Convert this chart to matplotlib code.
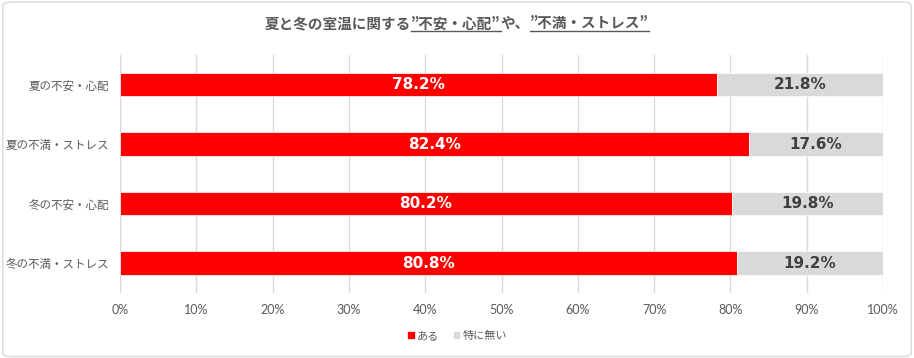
import numpy as np
import matplotlib
matplotlib.use('Agg')
import matplotlib.pyplot as plt
from matplotlib.patches import FancyBboxPatch
from matplotlib.lines import Line2D

plt.rcParams['font.family'] = ['Noto Sans CJK JP', 'DejaVu Sans']

categories = ['夏の不安・心配', '夏の不満・ストレス', '冬の不安・心配', '冬の不満・ストレス']
aru = [78.2, 82.4, 80.2, 80.8]
nai = [21.8, 17.6, 19.8, 19.2]
series_names = ['ある', '特に無い']
colors = ['#FF0000', '#D9D9D9']
xticks = np.arange(0, 101, 10)
xticklabels = ['%d%%' % v for v in xticks]

fig = plt.figure(figsize=(9.14, 3.58), dpi=100)
border = FancyBboxPatch((0.003, 0.004), 0.994, 0.99, boxstyle='round,pad=0,rounding_size=0.01',
                        transform=fig.transFigure, fc='none', ec='#D9D9D9', lw=1, zorder=-1)
fig.patches.append(border)
ax = fig.add_axes([0.1313, 0.182, 0.8348, 0.665])

y = np.arange(len(categories))
h = 0.4
b1 = ax.barh(y, aru, height=h, color=colors[0], edgecolor='white', lw=0.5, label=series_names[0], zorder=3)
b2 = ax.barh(y, nai, left=aru, height=h, color=colors[1], edgecolor='white', lw=0.5, label=series_names[1], zorder=3)

for i in range(len(categories)):
    ax.text(aru[i] / 2, y[i], '%.1f%%' % aru[i], ha='center', va='center', color='white',
            fontsize=11, fontweight='bold', family='DejaVu Sans', zorder=4)
    ax.text(aru[i] + nai[i] / 2, y[i], '%.1f%%' % nai[i], ha='center', va='center', color='#404040',
            fontsize=11, fontweight='bold', family='DejaVu Sans', zorder=4)

ax.set_xlim(0, 100)
ax.set_ylim(3.5, -0.5)
ax.set_xticks(xticks)
ax.set_xticklabels(xticklabels, fontsize=9, color='#595959', family=['Lato', 'DejaVu Sans'])
ax.set_yticks(y)
ax.set_yticklabels(categories, fontsize=8.3, color='#595959')
ax.tick_params(length=0, pad=8)
ax.grid(axis='x', color='#D9D9D9', lw=1, zorder=0)
for s in ax.spines.values():
    s.set_visible(False)

leg = fig.legend(handles=[b1, b2], labels=series_names, loc='center', bbox_to_anchor=(0.5, 0.062),
                 ncol=2, frameon=False, fontsize=8, handlelength=0.7, handleheight=0.7,
                 handletextpad=0.2, columnspacing=1.2, labelcolor='#595959')

# title with underlined parts
pieces = [('夏と冬の室温に関する', False), ('”不安・心配”', True), ('や、', False), ('”不満・ストレス”', True)]
r = fig.canvas.get_renderer()
texts = []
for s, u in pieces:
    t = fig.text(0, 0.935, s, fontsize=10.5, fontweight='bold', color='#595959', ha='left', va='center')
    texts.append(t)
widths = [t.get_window_extent(r).width for t in texts]
x0 = (fig.bbox.width - sum(widths)) / 2
for (s, u), t, w in zip(pieces, texts, widths):
    t.set_x(x0 / fig.bbox.width)
    if u:
        bb = t.get_window_extent(r)
        yl = (bb.y0 + 0.5) / fig.bbox.height
        fig.add_artist(Line2D([x0 / fig.bbox.width, (x0 + w) / fig.bbox.width], [yl, yl],
                              color='#595959', lw=1, transform=fig.transFigure))
    x0 += w

fig.savefig('out.png', dpi=100)
